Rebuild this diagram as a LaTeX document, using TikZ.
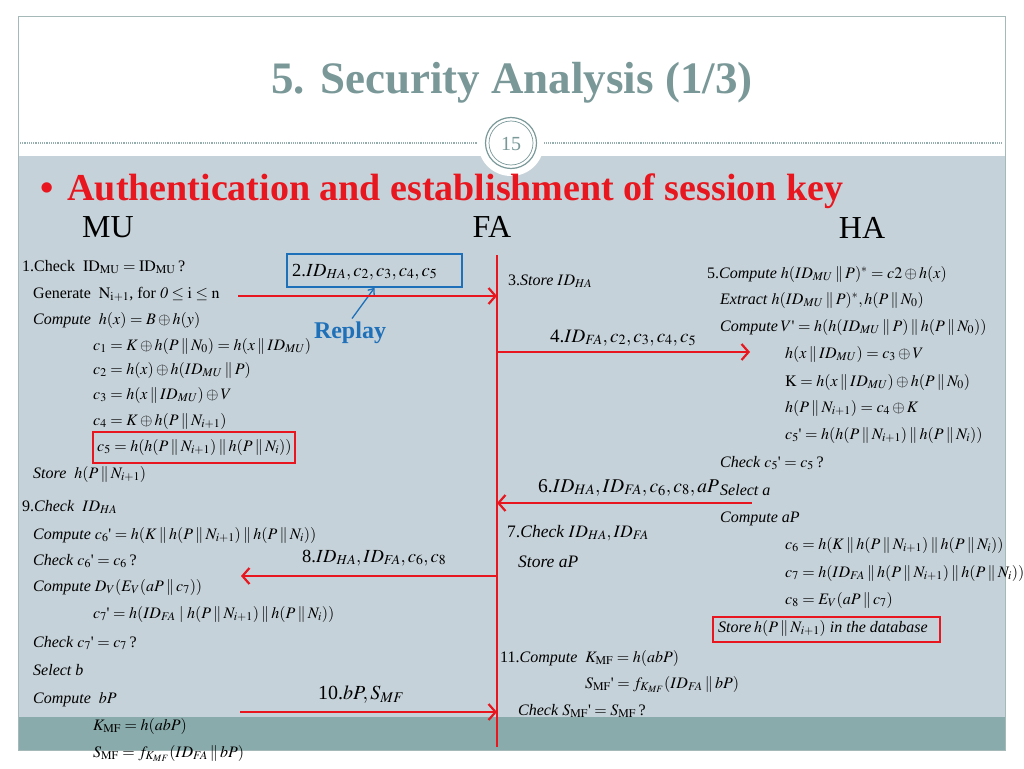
\documentclass[tikz,border=0pt]{standalone}
\usepackage{mathptmx}
\usepackage{fontspec}
\setmainfont{Liberation Serif}
\usetikzlibrary{arrows.meta}
\definecolor{slidebg}{RGB}{198,210,217}
\definecolor{bandteal}{RGB}{138,171,171}
\definecolor{titlegray}{RGB}{122,152,152}
\definecolor{sred}{RGB}{232,22,30}
\definecolor{sblue}{RGB}{30,112,185}
\definecolor{framec}{RGB}{165,185,185}
\newcommand{\catb}{\mathbin{\|}}
\newcommand{\apo}{\mbox{\textquotesingle}}
\tikzset{
  tl/.style={anchor=base west, inner sep=0pt, font=\fontsize{16}{18}\selectfont},
  tm/.style={anchor=base west, inner sep=0pt, font=\fontsize{17.5}{20}\selectfont},
  lab/.style={anchor=base west, inner sep=0pt, font=\fontsize{19}{22}\selectfont},
  msg/.style={draw=sred, line width=2.6pt, -{Straight Barb[length=7pt,width=16pt,line width=2.2pt]}},
  redbox/.style={draw=sred, line width=1.6pt},
  party/.style={anchor=base, inner sep=0pt, font=\fontsize{32}{34}\selectfont}
}
\begin{document}
\begin{tikzpicture}[x=1pt,y=-1pt]
\useasboundingbox (0,0) rectangle (1024,768);
\fill[white] (0,0) rectangle (1024,768);
% slide
\fill[slidebg] (18,156) rectangle (1005,717);
\fill[bandteal] (18,717) rectangle (1005,750);
\draw[framec, line width=1pt] (18,17) rectangle (1005,750);
\draw[titlegray!80, line width=1.2pt, densely dotted] (20,143) -- (1003,143);
\fill[white] (511,143) circle (33);
\draw[titlegray, line width=1.2pt] (511,143) circle (25.5);
\draw[titlegray, line width=0.7pt] (511,143) circle (22);
\node[text=titlegray, font=\fontsize{20}{20}\selectfont] (pg) at (511,144) {15};
% title
\node[text=titlegray, font=\fontsize{45}{47}\selectfont\bfseries] (title) at (512,83) {5. Security Analysis (1/3)};
\node[anchor=base west, inner sep=0pt, text=sred, font=\fontsize{38}{40}\selectfont\bfseries] (bullet) at (40,200) {\textbullet\hspace{14pt}Authentication and establishment of session key};
% parties
\node[party] (mu) at (108,237) {MU};
\node[party] (fa) at (492,237) {FA};
\node[party] (ha) at (862,238) {HA};
% FA line
\coordinate (fatop) at (497,255);
\coordinate (fabot) at (497,747);
\draw[sred, line width=2.8pt] (fatop) -- (fabot);
% left column
\node[tl] (l1) at (22,271) {1.Check~~$\mathrm{ID_{MU}}=\mathrm{ID_{MU}}$\,?};
\node[tl] (l2) at (33,298) {Generate~~$\mathrm{N_{i+1}}$, for $\mathit{0}\le\mathrm{i}\le\mathrm{n}$};
\node[tl] (l3) at (33,324) {\textit{Compute}~~$h(x)=B\oplus h(y)$};
\node[tl] (l4) at (93,350) {$c_1=K\oplus h(P\catb N_0)=h(x\catb ID_{MU})$};
\node[tl] (l5) at (93,374) {$c_2=h(x)\oplus h(ID_{MU}\catb P)$};
\node[tl] (l6) at (93,399) {$c_3=h(x\catb ID_{MU})\oplus V$};
\node[tl] (l7) at (93,425) {$c_4=K\oplus h(P\catb N_{i+1})$};
\node[tl] (l8) at (97,451) {$c_5=h(h(P\catb N_{i+1})\catb h(P\catb N_i))$};
\node[tl] (l9) at (33,478) {\textit{Store}~~$h(P\catb N_{i+1})$};
\node[tl] (l10) at (22,511) {9.\textit{Check}~~$ID_{HA}$};
\node[tl] (l11) at (33,539) {\textit{Compute} $c_6\apo=h(K\catb h(P\catb N_{i+1})\catb h(P\catb N_i))$};
\node[tl] (l12) at (33,565) {\textit{Check} $c_6\apo=c_6$\,?};
\node[tl] (l13) at (33,591) {\textit{Compute} $D_V(E_V(aP\catb c_7))$};
\node[tl] (l14) at (93,618) {$c_7\apo=h(ID_{FA}\mid h(P\catb N_{i+1})\catb h(P\catb N_i))$};
\node[tl] (l15) at (33,647) {\textit{Check} $c_7\apo=c_7$\,?};
\node[tl] (l16) at (33,675) {\textit{Select b}};
\node[tl] (l17) at (33,703) {\textit{Compute}~~$bP$};
\node[tl] (l18) at (93,730) {$K_{\mathrm{MF}}=h(abP)$};
\node[tl] (l19) at (93,757) {$S_{\mathrm{MF}}=f_{K_{MF}}(ID_{FA}\catb bP)$};
\draw[redbox] (93,432) rectangle (295,463);
% middle column
\node[tl] (m1) at (508,285) {3.\textit{Store} $ID_{HA}$};
\node[tm] (m2) at (507,537) {7.\textit{Check} $ID_{HA},ID_{FA}$};
\node[tm] (m3) at (518,567) {\textit{Store aP}};
\node[tl] (m4) at (500,662) {11.\textit{Compute}~~$K_{\mathrm{MF}}=h(abP)$};
\node[tl] (m5) at (585,688) {$S_{\mathrm{MF}}\apo=f_{K_{MF}}(ID_{FA}\catb bP)$};
\node[tl] (m6) at (518,715) {\textit{Check} $S_{\mathrm{MF}}\apo=S_{\mathrm{MF}}$\,?};
% right column
\node[tl] (r1) at (707,278) {5.\textit{Compute} $h(ID_{MU}\catb P)^*=c2\oplus h(x)$};
\node[tl] (r2) at (720,304) {\textit{Extract} $h(ID_{MU}\catb P)^*, h(P\catb N_0)$};
\node[tl] (r3) at (720,331) {\textit{Compute}\,$V\apo=h(h(ID_{MU}\catb P)\catb h(P\catb N_0))$};
\node[tl] (r4) at (785,358) {$h(x\catb ID_{MU})=c_3\oplus V$};
\node[tl] (r5) at (785,386) {$\mathrm{K}=h(x\catb ID_{MU})\oplus h(P\catb N_0)$};
\node[tl] (r6) at (785,412) {$h(P\catb N_{i+1})=c_4\oplus K$};
\node[tl] (r7) at (785,439) {$c_5\apo=h(h(P\catb N_{i+1})\catb h(P\catb N_i))$};
\node[tl] (r8) at (720,467) {\textit{Check} $c_5\apo=c_5$\,?};
\node[tl] (r9) at (720,495) {\textit{Select a}};
\node[tl] (r10) at (720,522) {\textit{Compute aP}};
\node[tl] (r11) at (785,549) {$c_6=h(K\catb h(P\catb N_{i+1})\catb h(P\catb N_i))$};
\node[tl] (r12) at (785,577) {$c_7=h(ID_{FA}\catb h(P\catb N_{i+1})\catb h(P\catb N_i))$};
\node[tl] (r13) at (785,604) {$c_8=E_V(aP\catb c_7)$};
\node[tl] (r14) at (718,632) {\textit{Store}\,$h(P\catb N_{i+1})$ \textit{in the database}};
\draw[redbox] (713,617) rectangle (940,642);
% messages
\node[draw=sblue, line width=1.5pt, minimum width=175pt, minimum height=33pt, inner sep=0pt] (box2) at (374.5,270.5) {};
\node[lab, font=\fontsize{18.5}{21}\selectfont] (msg2) at (292,276) {2.$ID_{HA},c_2,c_3,c_4,c_5$};
\node[lab] (msg4) at (550,342) {4.$ID_{FA},c_2,c_3,c_4,c_5$};
\node[lab, font=\fontsize{19.5}{22}\selectfont] (msg6) at (538,492) {6.$ID_{HA},ID_{FA},c_6,c_8,aP$};
\node[lab, font=\fontsize{18.5}{21}\selectfont] (msg8) at (302,562) {8.$ID_{HA},ID_{FA},c_6,c_8$};
\node[lab, font=\fontsize{20}{22}\selectfont] (msg10) at (318,699) {10.$bP,S_{MF}$};
\node[text=sblue, font=\fontsize{24}{26}\selectfont\bfseries] (replay) at (350,333) {Replay};
\draw[sblue, line width=1.3pt, -{Straight Barb[length=5pt,width=8pt]}] ([xshift=2pt]replay.north) -- (box2.south);
\coordinate (s2) at (238,296);
\draw[msg] (s2) -- (s2 -| fatop);
\coordinate (e4) at (750,352);
\draw[msg] (e4 -| fatop) -- (e4);
\coordinate (s6) at (752,503);
\draw[msg] (s6) -- (s6 -| fatop);
\coordinate (e8) at (241,576);
\draw[msg] (e8 -| fatop) -- (e8);
\coordinate (s10) at (240,712);
\draw[msg] (s10) -- (s10 -| fatop);
\end{tikzpicture}
\end{document}
